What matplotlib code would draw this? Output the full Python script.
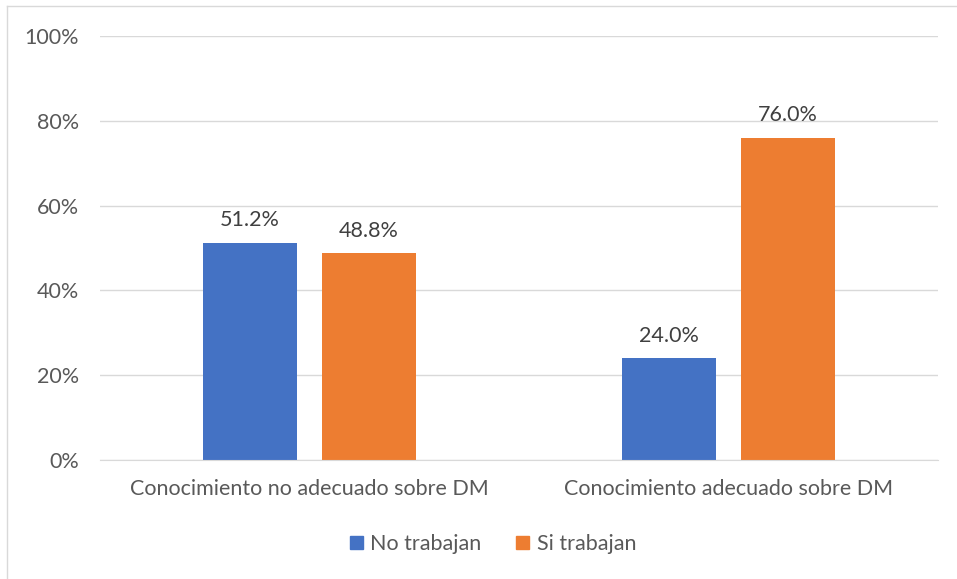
import matplotlib
matplotlib.use("Agg")
import matplotlib.pyplot as plt
from matplotlib.lines import Line2D
import numpy as np

plt.rcParams['font.family'] = ['Lato', 'DejaVu Sans']

categories = ["Conocimiento no adecuado sobre DM", "Conocimiento adecuado sobre DM"]
series_names = ["No trabajan", "Si trabajan"]
no_trabajan = [51.2, 24.0]
si_trabajan = [48.8, 76.0]
colors = ["#4472C4", "#ED7D31"]
yticks = [0, 20, 40, 60, 80, 100]

W, H = 957, 579
fig = plt.figure(figsize=(W / 100, H / 100), dpi=100)
ax = fig.add_axes([100 / W, 1 - 460 / H, 838 / W, 424 / H])

x = np.arange(len(categories))
bw = 0.224
offset = (94 + 25) / 419 / 2
text_col = "#595959"
fs = 15.5

for vals, name, col, sign in [(no_trabajan, series_names[0], colors[0], -1),
                              (si_trabajan, series_names[1], colors[1], 1)]:
    bars = ax.bar(x + sign * offset, vals, width=bw, color=col, label=name, zorder=3)
    for b, v in zip(bars, vals):
        ax.annotate(f"{v:.1f}%", (b.get_x() + b.get_width() / 2, v),
                    xytext=(0, 9), textcoords="offset points",
                    ha="center", va="bottom", fontsize=fs, color="#404040")

ax.set_xlim(-0.5, 1.5)
ax.set_ylim(0, 100)
ax.set_yticks(yticks)
ax.set_yticklabels([f"{t}%" for t in yticks])
ax.set_xticks(x)
ax.set_xticklabels(categories)
ax.tick_params(axis="both", length=0, labelsize=fs, colors=text_col)
ax.tick_params(axis="y", pad=15)
ax.tick_params(axis="x", pad=14)
ax.grid(axis="y", color="#D9D9D9", linewidth=1, zorder=0)
for s in ["top", "right", "left"]:
    ax.spines[s].set_visible(False)
ax.spines["bottom"].set_color("#D9D9D9")
ax.spines["bottom"].set_zorder(4)

handles = [plt.Rectangle((0, 0), 1, 1, color=c) for c in colors]
leg = fig.legend(handles, series_names, loc="center", bbox_to_anchor=(493 / W, 1 - 544 / H),
                 ncol=2, frameon=False, fontsize=fs, handlelength=0.6, handleheight=0.6,
                 handletextpad=0.35, columnspacing=1.6)
for t in leg.get_texts():
    t.set_color(text_col)

# chart frame edges
fig.add_artist(Line2D([7 / W, 7 / W], [0, 1 - 6 / H], color="#D9D9D9", lw=1))
fig.add_artist(Line2D([7 / W, 1], [1 - 6 / H, 1 - 6 / H], color="#D9D9D9", lw=1))

fig.savefig("out.png", dpi=100)
